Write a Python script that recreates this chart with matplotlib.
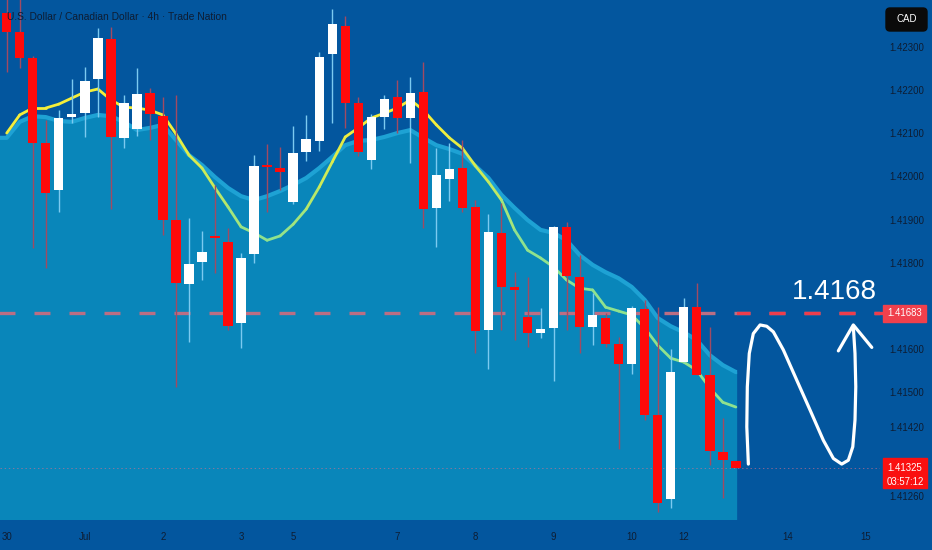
import matplotlib
matplotlib.use('Agg')
import matplotlib.pyplot as plt
import numpy as np
from matplotlib.collections import LineCollection
from matplotlib.colors import LinearSegmentedColormap, Normalize
from matplotlib.patches import Rectangle, FancyBboxPatch
import matplotlib.transforms as mtransforms

# USD/CAD 4h candles
opens = [1.42378, 1.42334, 1.42274, 1.42077, 1.41968, 1.42137, 1.42146, 1.42225, 1.42318, 1.42089,
         1.42109, 1.42193, 1.42139, 1.41899, 1.41751, 1.41801, 1.41862, 1.41848, 1.41660, 1.41820,
         1.42026, 1.42019, 1.41940, 1.42056, 1.42082, 1.42283, 1.42348, 1.42170, 1.42038, 1.42137,
         1.42183, 1.42135, 1.42195, 1.41927, 1.41994, 1.42019, 1.41929, 1.41644, 1.41869, 1.41744,
         1.41674, 1.41637, 1.41649, 1.41883, 1.41767, 1.41651, 1.41672, 1.41612, 1.41565, 1.41693,
         1.41447, 1.41253, 1.41570, 1.41697, 1.41540, 1.41362, 1.41341]
highs = [1.42420, 1.42420, 1.42278, 1.42130, 1.42153, 1.42225, 1.42253, 1.42343, 1.42345, 1.42188,
         1.42251, 1.42204, 1.42183, 1.42188, 1.41903, 1.41873, 1.41980, 1.41880, 1.41822, 1.42049,
         1.42075, 1.42068, 1.42116, 1.42142, 1.42288, 1.42387, 1.42371, 1.42183, 1.42144, 1.42188,
         1.42223, 1.42230, 1.42265, 1.42065, 1.42077, 1.42084, 1.41945, 1.41913, 1.41938, 1.41778,
         1.41767, 1.41695, 1.41885, 1.41894, 1.41818, 1.41730, 1.41683, 1.41628, 1.41700, 1.41714,
         1.41697, 1.41600, 1.41718, 1.41753, 1.41651, 1.41440, 1.41341]
lows = [1.42241, 1.42251, 1.41834, 1.41788, 1.41917, 1.42123, 1.42091, 1.42137, 1.41924, 1.42065,
        1.42093, 1.42084, 1.41864, 1.41512, 1.41616, 1.41760, 1.41776, 1.41644, 1.41602, 1.41799,
        1.41917, 1.41968, 1.41936, 1.42035, 1.42058, 1.42123, 1.42112, 1.42047, 1.42017, 1.42109,
        1.42100, 1.42031, 1.41880, 1.41836, 1.41943, 1.41917, 1.41591, 1.41554, 1.41644, 1.41621,
        1.41605, 1.41626, 1.41526, 1.41644, 1.41591, 1.41609, 1.41605, 1.41369, 1.41542, 1.41436,
        1.41223, 1.41232, 1.41570, 1.41540, 1.41332, 1.41255, 1.41325]
closes = [1.42334, 1.42274, 1.42077, 1.41961, 1.42135, 1.42144, 1.42221, 1.42320, 1.42091, 1.42170,
          1.42190, 1.42144, 1.41899, 1.41753, 1.41797, 1.41825, 1.41857, 1.41653, 1.41811, 1.42024,
          1.42021, 1.42010, 1.42054, 1.42086, 1.42276, 1.42352, 1.42170, 1.42056, 1.42137, 1.42179,
          1.42135, 1.42193, 1.41924, 1.42003, 1.42017, 1.41927, 1.41642, 1.41871, 1.41744, 1.41737,
          1.41637, 1.41646, 1.41883, 1.41769, 1.41651, 1.41679, 1.41612, 1.41565, 1.41695, 1.41447,
          1.41244, 1.41547, 1.41697, 1.41540, 1.41364, 1.41343, 1.41325]

# moving average line and the top edge of the shaded cloud
ma_values = [1.42100, 1.42142, 1.42158, 1.42158, 1.42167, 1.42181, 1.42195, 1.42202, 1.42177, 1.42160,
             1.42158, 1.42153, 1.42142, 1.42098, 1.42049, 1.42019, 1.41973, 1.41929, 1.41883, 1.41869,
             1.41852, 1.41862, 1.41889, 1.41924, 1.41975, 1.42033, 1.42091, 1.42112, 1.42135, 1.42146,
             1.42158, 1.42177, 1.42153, 1.42119, 1.42089, 1.42065, 1.42024, 1.41987, 1.41945, 1.41876,
             1.41829, 1.41811, 1.41790, 1.41760, 1.41741, 1.41737, 1.41697, 1.41688, 1.41679, 1.41649,
             1.41609, 1.41579, 1.41570, 1.41551, 1.41510, 1.41477, 1.41466]
cloud_top = [1.42089, 1.42126, 1.42139, 1.42137, 1.42128, 1.42126, 1.42135, 1.42142, 1.42139, 1.42126,
             1.42107, 1.42112, 1.42119, 1.42084, 1.42049, 1.42026, 1.41998, 1.41973, 1.41954, 1.41945,
             1.41954, 1.41966, 1.41980, 1.41996, 1.42019, 1.42045, 1.42072, 1.42082, 1.42084, 1.42091,
             1.42100, 1.42107, 1.42089, 1.42072, 1.42063, 1.42052, 1.42024, 1.41996, 1.41957, 1.41927,
             1.41899, 1.41876, 1.41869, 1.41852, 1.41818, 1.41795, 1.41778, 1.41764, 1.41744, 1.41714,
             1.41672, 1.41653, 1.41639, 1.41621, 1.41586, 1.41563, 1.41547]

date_pos = [0, 6, 12, 18, 22, 30, 36, 42, 48, 52, 60, 66]
date_labels = ['30', 'Jul', '2', '3', '5', '7', '8', '9', '10', '12', '14', '15']
price_ticks = [1.423, 1.422, 1.421, 1.420, 1.419, 1.418, 1.416, 1.415, 1.4142, 1.4126]

target = 1.41683
last_price = 1.41325
countdown = '03:57:12'

# hand drawn projection arrow (candle index, price)
arrow_x = [56.96, 56.84, 56.88, 57.03, 57.34, 57.86, 58.37, 58.88, 59.65, 60.68, 61.70, 62.72,
           63.49, 64.13, 64.64, 64.98, 65.15, 65.21, 65.15, 65.02]
arrow_y = [1.41334, 1.41420, 1.41513, 1.41590, 1.41636, 1.41656, 1.41653, 1.41640, 1.41598, 1.41528,
           1.41459, 1.41389, 1.41347, 1.41334, 1.41343, 1.41374, 1.41436, 1.41513, 1.41590, 1.41652]
head_x = [63.87, 65.02, 66.44]
head_y = [1.41596, 1.41656, 1.41604]

BG = '#03569e'
CLOUD = '#0986ba'
TXT = '#0e1d33'
plt.rcParams['font.family'] = ['Liberation Sans', 'DejaVu Sans']
plt.rcParams['lines.scale_dashes'] = False

fig = plt.figure(figsize=(9.32, 5.5), dpi=100, facecolor=BG)
ax = fig.add_axes([0, 30 / 550, 880 / 932, 520 / 550])
ax.set_facecolor(BG)
for s in ax.spines.values():
    s.set_visible(False)

n = len(opens)
x = np.arange(n)
o = np.array(opens)
c = np.array(closes)
h = np.array(highs)
l = np.array(lows)
up = c >= o
cloud_end = n - 1 + 0.1

# cloud
xf = np.r_[-0.6, x, cloud_end]
cf = np.r_[cloud_top[0], cloud_top, cloud_top[-1]]
ax.fill_between(xf, cf, 1.40, color=CLOUD, lw=0, zorder=1)
ax.plot(xf, cf, color='#1ea2d4', lw=3, zorder=1.2, solid_capstyle='butt')

# target line: muted on the cloud, bright off it
tl1, = ax.plot([-0.6, 70], [target, target], color='#bb6e84', lw=2.4, dashes=(11.5, 13.7), zorder=2)
tl2, = ax.plot([-0.6, 70], [target, target], color='#ee3d4c', lw=2.4, dashes=(11.5, 13.7), zorder=2.1)
clip = Rectangle((cloud_end, 1.40), 30, 0.05, transform=ax.transData)
tl2.set_clip_path(clip)

ax.axhline(last_price, color='#d8708c', lw=0.7, ls=(0, (1, 2)), alpha=0.6, zorder=2)

# moving average with price based colour
cmap = LinearSegmentedColormap.from_list('ma', ['#8fe28e', '#c9ea5a', '#f4ee3a'])
pts = np.column_stack([x, ma_values]).reshape(-1, 1, 2)
segs = np.concatenate([pts[:-1], pts[1:]], axis=1)
mid = (np.array(ma_values[:-1]) + np.array(ma_values[1:])) / 2
lc = LineCollection(segs, cmap=cmap, norm=Normalize(1.4186, 1.4212), lw=2.0, zorder=3,
                    capstyle='round', joinstyle='round')
lc.set_array(mid)
ax.add_collection(lc)

# candles
wick_col = np.where(up, '#7ccaf0', '#a24a62')
ax.vlines(x, l, h, colors=wick_col, lw=1.0, zorder=4)
body_col = np.where(up, '#ffffff', '#ff0a0a')
bottoms = np.minimum(o, c)
heights = np.maximum(np.abs(c - o), 0.00005)
ax.bar(x, heights, bottom=bottoms, width=0.72, color=body_col, lw=0, zorder=5)

# projection arrow
ax.plot(arrow_x, arrow_y, color='white', lw=2.3, solid_capstyle='round', solid_joinstyle='round', zorder=6)
ax.plot(head_x, head_y, color='white', lw=2.3, solid_capstyle='round', solid_joinstyle='round', zorder=6)
ax.text(63.6, 1.41716, '1.4168', color='white', fontsize=20, ha='center', va='baseline', zorder=6)

ax.set_xlim(-0.515, 67.07)
ax.set_ylim(1.412046, 1.42408)

ax.set_xticks(date_pos)
ax.set_xticklabels(date_labels)
ax.yaxis.tick_right()
ax.set_yticks(price_ticks)
ax.set_yticklabels(['%.5f' % p for p in price_ticks])
ax.tick_params(axis='both', length=0, colors=TXT, labelsize=6.9)
ax.tick_params(axis='y', pad=7)
ax.tick_params(axis='x', pad=9)

# price labels on the scale
bt = mtransforms.blended_transform_factory(ax.transAxes, ax.transData)
px = 1 / 43200
ax.add_patch(Rectangle((883 / 880, target - 8.5 * px), 43 / 880, 17 * px, transform=bt,
                       color='#f0404c', clip_on=False, zorder=10))
ax.text(904.5 / 880, target, '%.5f' % target, transform=bt, color='white', fontsize=6.9,
        ha='center', va='center', zorder=11)
ax.add_patch(Rectangle((883 / 880, last_price - 20 * px), 44 / 880, 30 * px, transform=bt,
                       color='#fa1010', clip_on=False, zorder=10))
ax.text(905 / 880, last_price, '%.5f' % last_price, transform=bt, color='white', fontsize=6.9,
        ha='center', va='center', zorder=11)
ax.text(905 / 880, last_price - 14 * px, countdown, transform=bt, color='white', fontsize=6.9,
        ha='center', va='center', zorder=11)

# currency badge and title
fig.add_artist(FancyBboxPatch((8.86, 5.19), 0.41, 0.23, boxstyle='round,pad=0,rounding_size=0.04',
                              transform=fig.dpi_scale_trans, color='#0a0a0a'))
fig.text(9.065, 5.305, 'CAD', transform=fig.dpi_scale_trans, color='white', fontsize=7,
         ha='center', va='center')
fig.text(7 / 932, 1 - 17 / 550, 'U.S. Dollar / Canadian Dollar · 4h · Trade Nation', color=TXT,
         fontsize=7.4, ha='left', va='center')

fig.savefig('out.png', dpi=100, facecolor=BG)
